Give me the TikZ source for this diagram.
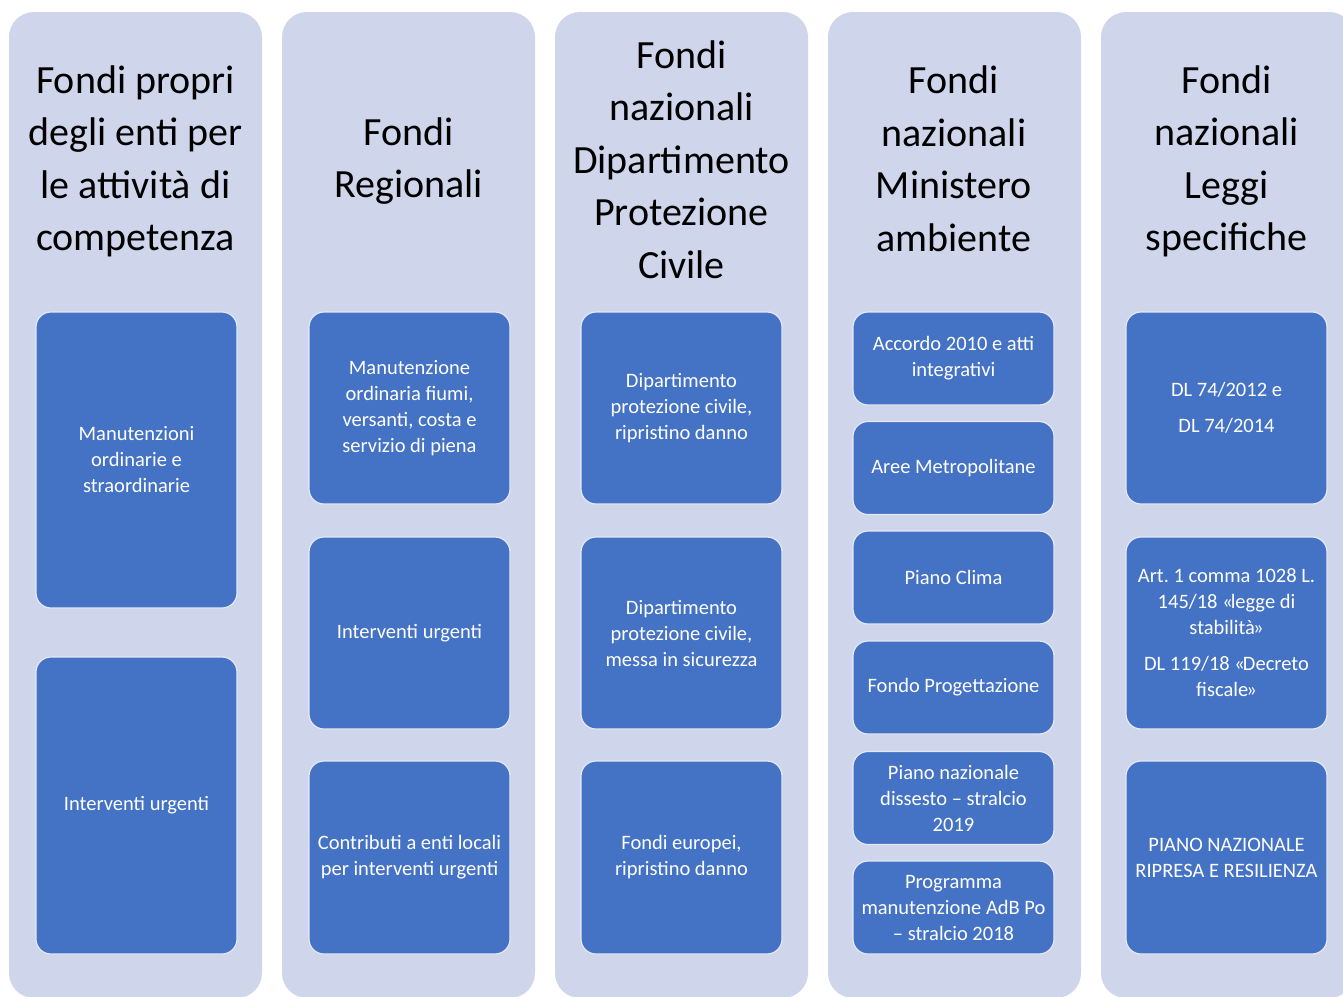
\documentclass[tikz,border=0pt]{standalone}
\usepackage{fontspec}
\setmainfont{Carlito}
\usepackage{xcolor}
\usetikzlibrary{positioning}
\definecolor{lavanda}{HTML}{CFD5EA}
\definecolor{bluvoce}{HTML}{4472C4}
\definecolor{bordovoce}{HTML}{E4E9F5}
\newcommand{\gapri}{«\kern-2pt}
\newcommand{\gchiudi}{\kern-2pt»}
\frenchspacing

\begin{document}
\begin{tikzpicture}[x=1pt, y=-1pt,
  colonna/.style={fill=lavanda, rounded corners=25pt, minimum width=253pt, minimum height=986pt, inner sep=0pt},
  titolo/.style={align=center, text=black, font=\fontsize{40}{52.5}\selectfont, inner sep=0pt},
  voce/.style={fill=bluvoce, draw=bordovoce, line width=1.2pt, rounded corners=15pt, minimum width=201pt, inner sep=0pt, text=white, align=center, font=\fontsize{20.5}{26}\selectfont}]
  \useasboundingbox (0,0) rectangle (1343,996);

  % colonne di sfondo
  \foreach \i/\x in {1/135.5, 2/408.5, 3/681.5, 4/954.5, 5/1227.5} {
    \node[colonna] (col\i) at (\x,505) {};
  }

  % titoli delle colonne
  \node[titolo] (tit1) at (135.5,161.5) {Fondi propri\\degli enti per\\le attività di\\competenza};
  \node[titolo] (tit2) at (408.5,161) {Fondi\\Regionali};
  \node[titolo] (tit3) at (681.5,159.5) {Fondi\\nazionali\\Dipartimento\\Protezione\\Civile};
  \node[titolo] (tit4) at (954,159) {Fondi\\nazionali\\Ministero\\ambiente};
  \node[titolo] (tit5) at (1226.5,161.5) {Fondi\\nazionali\\Leggi\\specifiche};

  % colonna 1
  \node[voce, minimum height=296pt] (c1a) at (136.5,460) {Manutenzioni\\ordinarie e\\straordinarie};
  \node[voce, minimum height=297pt] (c1b) at (136.5,805.5) {Interventi urgenti};

  % colonna 2
  \node[voce, minimum height=192pt] (c2a) at (409.5,408) {Manutenzione\\ordinaria fiumi,\\versanti, costa e\\servizio di piena};
  \node[voce, minimum height=192pt] (c2b) at (409.5,633) {Interventi urgenti};
  \node[voce, minimum height=193pt] (c2c) at (409.5,857.5) {Contributi a enti locali\\per interventi urgenti};

  % colonna 3
  \node[voce, minimum height=192pt] (c3a) at (681.5,408) {Dipartimento\\protezione civile,\\ripristino danno};
  \node[voce, minimum height=192pt] (c3b) at (681.5,633) {Dipartimento\\protezione civile,\\messa in sicurezza};
  \node[voce, minimum height=193pt] (c3c) at (681.5,857.5) {Fondi europei,\\ripristino danno};

  % colonna 4
  \node[voce, minimum height=93pt] (c4a) at (953.5,358.5) {Accordo 2010 e atti\\integrativi};
  \node[voce, minimum height=93pt] (c4b) at (953.5,468) {Aree Metropolitane};
  \node[voce, minimum height=93pt] (c4c) at (953.5,577.5) {Piano Clima};
  \node[voce, minimum height=93pt] (c4d) at (953.5,687.5) {Fondo Progettazione};
  \node[voce, minimum height=93pt] (c4e) at (953.5,798) {Piano nazionale\\dissesto -- stralcio\\2019};
  \node[voce, minimum height=93pt] (c4f) at (953.5,907.5) {Programma\\manutenzione AdB Po\\-- stralcio 2018};

  % colonna 5
  \node[voce, minimum height=192pt] (c5a) at (1226.5,408) {DL 74/2012 e\\[10pt]DL 74/2014};
  \node[voce, minimum height=192pt] (c5b) at (1226.5,633) {Art. 1 comma 1028 L.\\145/18 \gapri legge di\\stabilità\gchiudi\\[10pt]DL 119/18 \gapri Decreto\\fiscale\gchiudi};
  \node[voce, minimum height=193pt] (c5c) at (1226.5,857.5) {PIANO NAZIONALE\\RIPRESA E RESILIENZA};
\end{tikzpicture}
\end{document}
